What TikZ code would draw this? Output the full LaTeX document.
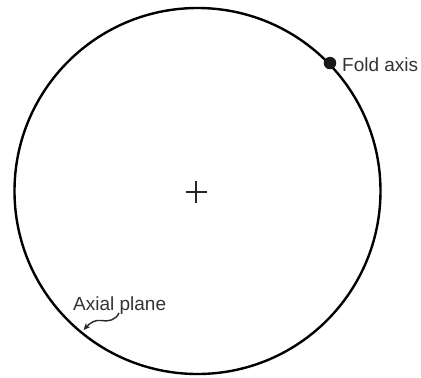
\documentclass[tikz,border=0pt]{standalone}
\usepackage{fontspec}
\setmainfont{Liberation Sans}
\usetikzlibrary{arrows.meta}
\begin{document}
\begin{tikzpicture}[x=1pt,y=-1pt,
  net/.style={circle,draw=black,line width=2.4pt,minimum size=366pt,inner sep=0pt},
  dotmark/.style={circle,fill=black!90,inner sep=0pt,minimum size=12.5pt},
  lbl/.style={text=black!80,font=\fontsize{19}{22}\selectfont,inner sep=0pt,anchor=base west},
  crossline/.style={line width=1.4pt,draw=black!85},
  pointer/.style={line width=1.4pt,draw=black!85,-{Stealth[length=7pt,width=6pt]}}]
\useasboundingbox (0,0) rectangle (421,378);
\node[net] (net) at (197.5,191) {};
\coordinate (ctr) at (196,192);
\draw[crossline] ([xshift=-10.5pt]ctr) -- ([xshift=10.5pt]ctr);
\draw[crossline] ([yshift=-11pt]ctr) -- ([yshift=11pt]ctr);
\node[dotmark] (fold) at (net.44.3) {};
\node[lbl] (foldlbl) at (342,71) {Fold axis};
\node[lbl] (axlbl) at (73,310) {Axial plane};
\coordinate (sq) at (119,313);
\coordinate (tip) at (83.5,330);
\draw[pointer] (sq) .. controls (116,320) and (108,322) .. (101,320.5) .. controls (95,319.5) and (90,323) .. (tip);
\end{tikzpicture}
\end{document}
